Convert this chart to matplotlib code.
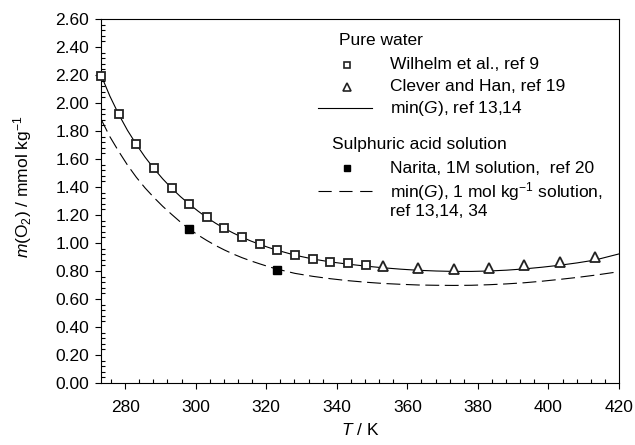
import matplotlib

matplotlib.use("Agg")
import matplotlib.pyplot as plt
from matplotlib.ticker import MultipleLocator, FormatStrFormatter

plt.rcParams["font.family"] = ["Liberation Sans", "DejaVu Sans"]
plt.rcParams["mathtext.fontset"] = "custom"
plt.rcParams["mathtext.rm"] = "Liberation Sans"
plt.rcParams["mathtext.it"] = "Liberation Sans:italic"
plt.rcParams["lines.scale_dashes"] = False

# Pure water, Wilhelm et al. (open squares)
T_wilhelm = [273.15, 278.15, 283.15, 288.15, 293.15, 298.15, 303.15, 308.15,
             313.15, 318.15, 323.15, 328.15, 333.15, 338.15, 343.15, 348.15]
m_wilhelm = [2.19, 1.92, 1.705, 1.535, 1.395, 1.28, 1.183, 1.105,
             1.04, 0.99, 0.948, 0.912, 0.886, 0.867, 0.854, 0.845]

# Pure water, Clever and Han (open triangles)
T_clever = [353.15, 363.15, 373.15, 383.15, 393.15, 403.15, 413.15]
m_clever = [0.836, 0.818, 0.815, 0.824, 0.843, 0.864, 0.898]

# Sulphuric acid, Narita (filled squares)
T_narita = [298.15, 323.15]
m_narita = [1.10, 0.81]

# model curves min(G)
T_model = [273.15, 275.65, 278.15, 280.65, 283.15, 285.65, 288.15, 290.65,
           293.15, 295.65, 298.15, 300.65, 303.15, 305.65, 308.15, 310.65,
           313.15, 315.65, 318.15, 320.65, 323.15, 328.15, 333.15, 338.15,
           343.15, 348.15, 353.15, 358.15, 363.15, 368.15, 373.15, 378.15,
           383.15, 388.15, 393.15, 398.15, 403.15, 408.15, 413.15, 420.0]
m_water = [2.20, 2.05, 1.92, 1.805, 1.705, 1.613, 1.532, 1.458,
           1.392, 1.332, 1.278, 1.228, 1.182, 1.141, 1.104, 1.071,
           1.041, 1.014, 0.990, 0.968, 0.948, 0.913, 0.886, 0.865,
           0.849, 0.835, 0.823, 0.813, 0.805, 0.800, 0.797, 0.797,
           0.800, 0.806, 0.815, 0.827, 0.841, 0.858, 0.878, 0.922]
m_acid = [1.885, 1.76, 1.655, 1.557, 1.47, 1.393, 1.325, 1.262,
          1.205, 1.15, 1.10, 1.057, 1.018, 0.982, 0.950, 0.921,
          0.895, 0.872, 0.851, 0.831, 0.813, 0.783, 0.762, 0.745,
          0.731, 0.720, 0.711, 0.705, 0.700, 0.698, 0.697, 0.698,
          0.702, 0.708, 0.716, 0.727, 0.740, 0.754, 0.770, 0.795]

fig = plt.figure(figsize=(6.35, 4.45), dpi=100)
ax = fig.add_axes([101 / 635, 62 / 445, 518 / 635, 364 / 445])

ax.plot(T_model, m_water, color="black", lw=0.8, zorder=2)
ax.plot(T_model, m_acid, color="black", lw=0.8, dashes=(10, 4), zorder=2)
ax.plot(T_wilhelm, m_wilhelm, ls="none", marker="s", ms=6, mfc="white",
        mec="#222222", mew=1.3, zorder=3, clip_on=False)
ax.plot(T_clever, m_clever, ls="none", marker="^", ms=7, mfc="white",
        mec="#222222", mew=1.3, zorder=3, clip_on=False)
ax.plot(T_narita, m_narita, ls="none", marker="s", ms=6, mfc="black",
        mec="black", mew=1.0, zorder=3, clip_on=False)

ax.set_xlim(273.15, 420)
ax.set_ylim(0, 2.6)
ax.xaxis.set_major_locator(MultipleLocator(20))
ax.xaxis.set_minor_locator(MultipleLocator(4))
ax.yaxis.set_major_locator(MultipleLocator(0.2))
ax.yaxis.set_minor_locator(MultipleLocator(0.04))
ax.yaxis.set_major_formatter(FormatStrFormatter("%.2f"))
ax.tick_params(which="major", direction="out", length=4, width=0.8,
               labelsize=12.5, top=False, right=False)
ax.tick_params(which="minor", direction="in", length=3, width=0.8,
               top=False, right=False)
ax.tick_params(axis="x", which="major", pad=8)
ax.tick_params(axis="y", which="major", pad=4.5)
for s in ax.spines.values():
    s.set_linewidth(0.8)

ax.set_xlabel("$T$ / K", fontsize=12.5, va="center")
ax.xaxis.set_label_coords(0.5, -0.13)
ax.set_ylabel("$m$(O$_2$) / mmol kg$^{-1}$", fontsize=12.5, va="center")
ax.yaxis.set_label_coords(-0.152, 0.54)

# hand-built legend
tr = ax.transAxes
fs = 12.5
ax.text(0.459, 0.942, "Pure water", transform=tr, fontsize=fs, va="center")
ax.plot([0.474], [0.874], transform=tr, marker="s", ms=5, mfc="white",
        mec="#222222", mew=1.2, clip_on=False)
ax.text(0.557, 0.874, "Wilhelm et al., ref 9", transform=tr, fontsize=fs, va="center")
ax.plot([0.474], [0.814], transform=tr, marker="^", ms=6, mfc="white",
        mec="#222222", mew=1.2, clip_on=False)
ax.text(0.557, 0.814, "Clever and Han, ref 19", transform=tr, fontsize=fs, va="center")
ax.plot([0.4195, 0.5226], [0.7547, 0.7547], transform=tr, color="black", lw=0.8)
ax.text(0.557, 0.7547, "min($G$), ref 13,14", transform=tr, fontsize=fs, va="center")
ax.text(0.445, 0.654, "Sulphuric acid solution", transform=tr, fontsize=fs, va="center")
ax.plot([0.474], [0.590], transform=tr, marker="s", ms=5, mfc="black",
        mec="black", mew=1.0, clip_on=False)
ax.text(0.557, 0.590, "Narita, 1M solution,  ref 20", transform=tr, fontsize=fs, va="center")
ax.plot([0.4195, 0.5226], [0.528, 0.528], transform=tr, color="black", lw=0.8,
        dashes=(9.5, 5.5))
ax.text(0.557, 0.526, "min($G$), 1 mol kg$^{-1}$ solution,", transform=tr,
        fontsize=fs, va="center")
ax.text(0.557, 0.4706, "ref 13,14, 34", transform=tr, fontsize=fs, va="center")

fig.savefig("out.png", dpi=100)
